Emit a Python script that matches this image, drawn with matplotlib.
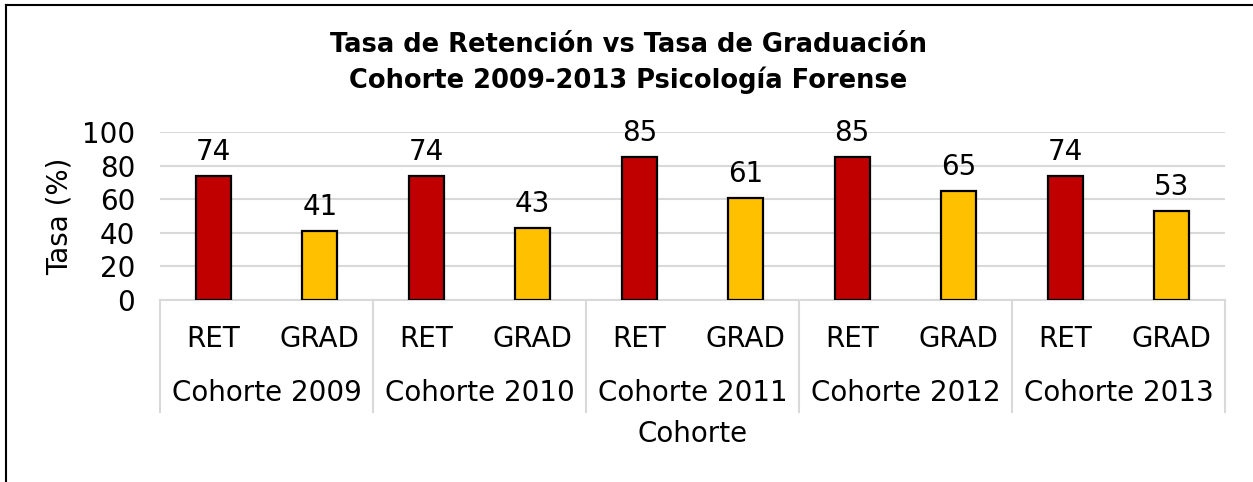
"""
Retention vs graduation rate bar chart, cohorts 2009-2013.
"""

import matplotlib.pyplot as plt
from matplotlib.lines import Line2D
from matplotlib.transforms import blended_transform_factory

cohorts = ["Cohorte 2009", "Cohorte 2010", "Cohorte 2011",
           "Cohorte 2012", "Cohorte 2013"]
kinds = ["RET", "GRAD"]
ret = [74, 74, 85, 85, 74]
grad = [41, 43, 61, 65, 53]
yticks = [0, 20, 40, 60, 80, 100]

plt.rcParams["font.family"] = ["DejaVu Sans"]
FS = 20

W, H = 1253, 482
fig = plt.figure(figsize=(W / 100, H / 100), dpi=100)
ax = fig.add_axes([160 / W, (H - 300) / H, 1065 / W, 168 / H])

values = []
colors = []
for r, g in zip(ret, grad):
    values += [r, g]
    colors += ["#C00000", "#FFC000"]
xs = list(range(len(values)))

ax.set_axisbelow(True)
ax.bar(xs, values, width=0.33, color=colors, edgecolor="black",
       linewidth=1.6, zorder=3)
for x, v in zip(xs, values):
    ax.annotate(str(v), (x, v), xytext=(0, 7), textcoords="offset points",
                ha="center", va="bottom", fontsize=FS)

ax.set_xlim(-0.5, len(values) - 0.5)
ax.set_ylim(0, 100)
ax.set_yticks(yticks)
ax.tick_params(axis="y", length=0, pad=18, labelsize=FS)
ax.grid(axis="y", color="#D9D9D9", linewidth=1.5)
ax.set_xticks(xs)
ax.set_xticklabels(kinds * len(cohorts))
ax.tick_params(axis="x", length=0, pad=18, labelsize=FS)
for side in ["top", "right", "left"]:
    ax.spines[side].set_visible(False)
ax.spines["bottom"].set_color("#D9D9D9")
ax.spines["bottom"].set_linewidth(1.5)

ax.set_ylabel("Tasa (%)", fontsize=FS, labelpad=6)

# category table under the axis
trans = blended_transform_factory(ax.transData, ax.transAxes)
for i in range(len(cohorts) + 1):
    bx = 2 * i - 0.5
    ax.add_line(Line2D([bx, bx], [0, -0.667], transform=trans,
                       color="#D9D9D9", linewidth=1.5, clip_on=False))
for i, name in enumerate(cohorts):
    ax.text(2 * i + 0.5, -0.555, name, transform=trans, ha="center",
            va="center", fontsize=FS)
ax.text(0.5, -0.8, "Cohorte", transform=ax.transAxes, ha="center",
        va="center", fontsize=FS)

fig.text(628 / W, 1 - 45 / H, "Tasa de Retención vs Tasa de Graduación",
         ha="center", va="center", fontsize=18.5, fontweight="bold")
fig.text(628 / W, 1 - 80 / H, "Cohorte 2009-2013 Psicología Forense",
         ha="center", va="center", fontsize=18.5, fontweight="bold")

# chart frame (left and top edges visible)
fig.add_artist(Line2D([6 / W, 6 / W], [0, 1 - 5 / H], color="black",
                      linewidth=1.5, transform=fig.transFigure))
fig.add_artist(Line2D([6 / W, 1], [1 - 5 / H, 1 - 5 / H], color="black",
                      linewidth=1.5, transform=fig.transFigure))

fig.savefig("out.png", dpi=100)
